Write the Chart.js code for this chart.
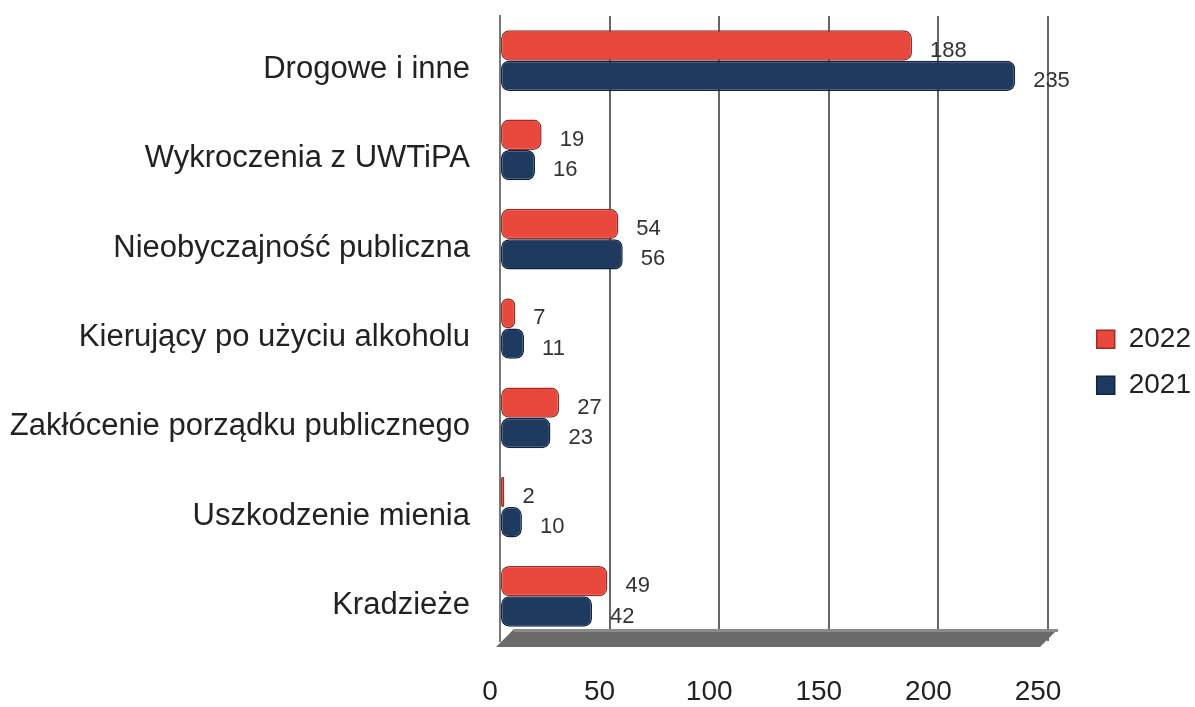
<!DOCTYPE html>
<html>
<head>
<meta charset="utf-8">
<script src="https://cdn.jsdelivr.net/npm/chart.js@4/dist/chart.umd.min.js"></script>
<style>
  html, body { margin: 0; padding: 0; background: #fff; }
  #wrap { width: 1195px; height: 707px; }
</style>
</head>
<body>
<div id="wrap"><canvas id="myChart" width="1195" height="707"></canvas></div>
<script>
const categories = [
    'Drogowe i inne',
    'Wykroczenia z UWTiPA',
    'Nieobyczajność publiczna',
    'Kierujący po użyciu alkoholu',
    'Zakłócenie porządku publicznego',
    'Uszkodzenie mienia',
    'Kradzieże'
];
const values2022 = [188, 19, 54, 7, 27, 2, 49];
const values2021 = [235, 16, 56, 11, 23, 10, 42];
const xTicks = [0, 50, 100, 150, 200, 250];

const fontFamily = '"Liberation Sans", Arial, sans-serif';

// value labels next to bar ends
const valueLabels = {
    id: 'valueLabels',
    afterDatasetsDraw(chart) {
        const ctx = chart.ctx;
        ctx.save();
        ctx.font = '22px ' + fontFamily;
        ctx.fillStyle = '#333';
        ctx.textBaseline = 'middle';
        ctx.textAlign = 'left';
        chart.data.datasets.forEach((ds, i) => {
            chart.getDatasetMeta(i).data.forEach((bar, j) => {
                ctx.fillText(ds.data[j], bar.x + 18, bar.y + 5);
            });
        });
        ctx.restore();
    }
};

// grey floor under the bars, from 0 to the last tick
const floor = {
    id: 'floor',
    beforeDatasetsDraw(chart) {
        const x = chart.scales.x;
        const b = chart.chartArea.bottom;
        const x0 = x.getPixelForValue(xTicks[0]);
        const x1 = x.getPixelForValue(xTicks[xTicks.length - 1]);
        const ctx = chart.ctx;
        ctx.save();
        ctx.fillStyle = '#6a6a6a';
        ctx.beginPath();
        ctx.moveTo(x0 - 4, b + 6);
        ctx.lineTo(x1 - 8, b + 6);
        ctx.lineTo(x1 + 10, b - 12);
        ctx.lineTo(x0 + 14, b - 12);
        ctx.closePath();
        ctx.fill();
        ctx.fillStyle = '#8a8a8a';
        ctx.fillRect(x0 + 14, b - 12, x1 - x0 - 4, 3);
        ctx.restore();
    }
};

const ctx = document.getElementById('myChart').getContext('2d');
const myChart = new Chart(ctx, {
    type: 'bar',
    data: {
        labels: categories,
        datasets: [
            {
                label: '2022',
                data: values2022,
                backgroundColor: '#e8493c',
                borderColor: '#9c2c24',
                borderWidth: 1.5,
                borderRadius: 8,
                borderSkipped: false
            },
            {
                label: '2021',
                data: values2021,
                backgroundColor: '#1f3a5f',
                borderColor: '#122540',
                borderWidth: 1.5,
                borderRadius: 8,
                borderSkipped: false
            }
        ]
    },
    options: {
        indexAxis: 'y',
        responsive: false,
        animation: false,
        layout: { padding: { top: 16, right: -6, left: 8, bottom: -36 } },
        datasets: {
            bar: { categoryPercentage: 0.68, barPercentage: 1.0 }
        },
        scales: {
            x: {
                min: 0,
                max: 264,
                afterBuildTicks: function(scale) {
                    scale.ticks = xTicks.map(v => ({ value: v }));
                },
                grid: { color: '#666', lineWidth: 2, drawTicks: false },
                border: { display: false },
                ticks: {
                    color: '#222',
                    padding: 37,
                    labelOffset: -10,
                    font: { size: 28, lineHeight: 1, family: fontFamily }
                }
            },
            y: {
                grid: { display: false, drawTicks: true, tickLength: 30 },
                border: { color: '#777', width: 2 },
                afterFit: function(scale) { scale.width = 492; },
                ticks: {
                    color: '#222',
                    padding: 0,
                    labelOffset: 9,
                    font: { size: 31, lineHeight: 1, family: fontFamily }
                }
            }
        },
        plugins: {
            legend: {
                position: 'right',
                align: 'start',
                title: { display: true, text: '', padding: { top: 290, bottom: 0 }, font: { size: 1 } },
                labels: {
                    boxWidth: 18,
                    boxHeight: 18,
                    padding: 18,
                    color: '#222',
                    font: { size: 28, family: fontFamily }
                }
            },
            tooltip: { enabled: false }
        }
    },
    plugins: [floor, valueLabels]
});
</script>
</body>
</html>
